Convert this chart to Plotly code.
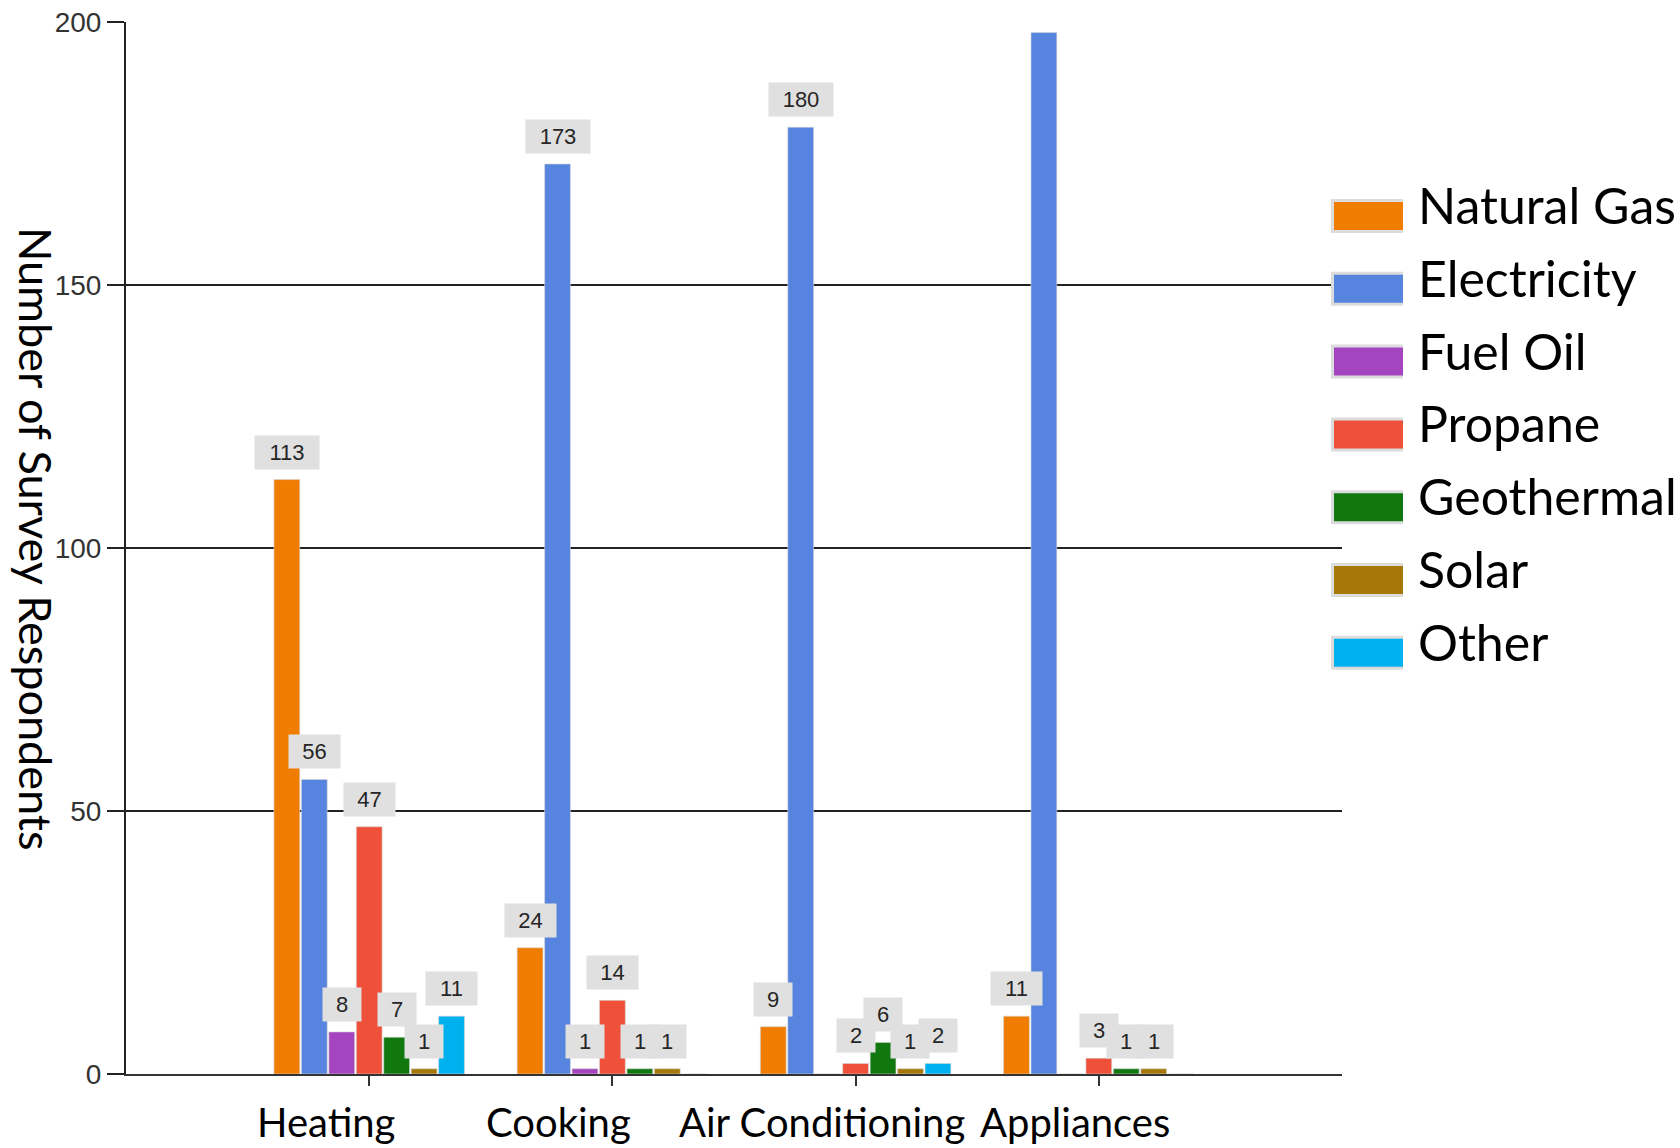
import plotly.graph_objects as go

categories = ["Heating", "Cooking", "Air Conditioning", "Appliances"]
series_names = ["Natural Gas", "Electricity", "Fuel Oil", "Propane", "Geothermal", "Solar", "Other"]
natural_gas = [113, 24, 9, 11]
electricity = [56, 173, 180, 198]
fuel_oil = [8, 1, 0, 0]
propane = [47, 14, 2, 3]
geothermal = [7, 1, 6, 1]
solar = [1, 1, 1, 1]
other = [11, 0, 2, 0]
y_ticks = [0, 50, 100, 150, 200]
# horizontal pixel offset of each category label from its tick (as in the original)
label_shift = [-43, -54, -34, -24]

values = [natural_gas, electricity, fuel_oil, propane, geothermal, solar, other]
colors = ["#F07C00", "#5684DE", "#A544BF", "#EE5039", "#10780F", "#A6780A", "#00B1EF"]

BARGAP = 0.21
XR = [-1.0, 4.0]
YMAX = 200

W, H = 1680, 1148
L, R, T, B = 126, 338, 22, 74
pw, ph = W - L - R, H - T - B


def px_x(p):
    return (p - L) / pw


def px_y(p):
    return 1 - (p - T) / ph


fig = go.Figure()
xs = list(range(len(categories)))
for name, vals, col in zip(series_names, values, colors):
    fig.add_trace(go.Bar(
        x=xs, y=vals, name=name, showlegend=False,
        marker=dict(color=col, line=dict(color="rgba(215,215,215,0.6)", width=1)),
        hoverinfo="skip",
    ))

n = len(series_names)
slot = (1 - BARGAP) / n
annotations = []
shapes = []
for j, vals in enumerate(values):
    for i, v in enumerate(vals):
        if v <= 0 or v > YMAX - 5:
            continue
        s = str(v)
        xpos = i - (1 - BARGAP) / 2 + (j + 0.5) * slot
        annotations.append(dict(
            x=xpos, y=v, xref="x", yref="y", text=s, showarrow=False,
            yanchor="bottom", yshift=10,
            font=dict(family="Liberation Sans, Arial, sans-serif", size=22, color="#262626"),
            bgcolor="#E0E0E0", borderpad=4, width=13 * len(s) + 17, height=25,
        ))

# category labels
for i, (cat, sh) in enumerate(zip(categories, label_shift)):
    annotations.append(dict(
        x=i, y=0, xref="x", yref="paper", text=cat, showarrow=False,
        xanchor="center", yanchor="top", xshift=sh, yshift=-22,
        font=dict(family="Lato", size=40, color="#000000"),
    ))

# y-axis title (reads top to bottom)
annotations.append(dict(
    x=px_x(36), y=px_y(538), xref="paper", yref="paper", text="Number of Survey Respondents",
    showarrow=False, textangle=90, xanchor="center", yanchor="middle",
    font=dict(family="Lato", size=45, color="#000000"),
))

# custom legend with large swatches
LEG_TOP, LEG_STEP = 199, 72.8
for k, (name, col) in enumerate(zip(series_names, colors)):
    top = LEG_TOP + k * LEG_STEP
    shapes.append(dict(type="rect", xref="paper", yref="paper",
                       x0=px_x(1331), x1=px_x(1403), y0=px_y(top), y1=px_y(top + 34),
                       fillcolor="#DCDCDC", line=dict(width=0)))
    shapes.append(dict(type="rect", xref="paper", yref="paper",
                       x0=px_x(1334), x1=px_x(1403), y0=px_y(top + 3), y1=px_y(top + 31),
                       fillcolor=col, line=dict(width=0)))
    annotations.append(dict(
        x=px_x(1416), y=px_y(top + 6), xref="paper", yref="paper", text=name,
        showarrow=False, xanchor="left", yanchor="middle",
        font=dict(family="Lato", size=50, color="#000000"),
    ))

shapes += [
    dict(type="line", xref="x domain", x0=0, x1=0, yref="y", ysizemode="pixel",
         yanchor=0, y0=0, y1=-14, line=dict(color="#222222", width=2)),
    dict(type="line", xref="x domain", x0=1, x1=1, yref="y", ysizemode="pixel",
         yanchor=0, y0=0, y1=-14, line=dict(color="#333333", width=2)),
]

fig.update_layout(
    width=W, height=H,
    margin=dict(l=L, r=R, t=T, b=B, autoexpand=False),
    paper_bgcolor="white", plot_bgcolor="white",
    barmode="group", bargap=BARGAP, bargroupgap=0.06,
    showlegend=False,
    annotations=annotations,
    shapes=shapes,
    xaxis=dict(
        range=XR, tickmode="array", tickvals=xs, showticklabels=False,
        showgrid=False, zeroline=False, showline=True, linecolor="#333333", linewidth=2,
        ticks="outside", ticklen=10, tickwidth=2, tickcolor="#333333",
    ),
    yaxis=dict(
        range=[0, YMAX], tickmode="array", tickvals=y_ticks,
        showgrid=True, gridcolor="#222222", gridwidth=2,
        zeroline=False, showline=True, linecolor="#222222", linewidth=2,
        ticks="outside", ticklen=17, tickwidth=2, tickcolor="#222222",
        tickfont=dict(family="Liberation Sans Narrow, Liberation Sans, Arial", size=28, color="#333333"),
    ),
)

fig.write_html("out.html", config={"displayModeBar": False},
               post_script="document.body.style.margin='0px';")
